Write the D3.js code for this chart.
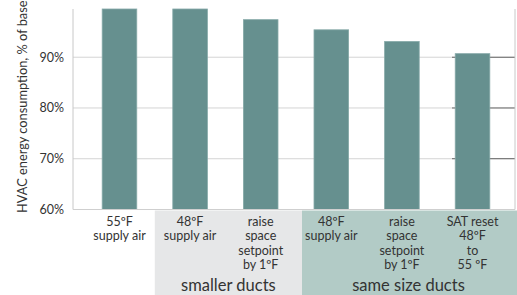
<!DOCTYPE html>
<html>
<head>
<meta charset="utf-8">
<script src="https://cdn.jsdelivr.net/npm/d3@7"></script>
<style>
  body { margin: 0; background: #fff; }
  text { font-family: Lato, "Open Sans", sans-serif; fill: #333; }
</style>
</head>
<body>
<div id="chart-area"></div>
<script>
// SVG Size
let width = 517,
	height = 295;

// data
let categories = ["55F", "48F small", "raise small", "48F same", "raise same", "SAT reset"];
let values = [99.5, 99.5, 97.4, 95.4, 93.1, 90.7];
let catLabels = [
	["55ºF", "supply air"],
	["48ºF", "supply air"],
	["raise", "space", "setpoint", "by 1ºF"],
	["48ºF", "supply air"],
	["raise", "space", "setpoint", "by 1ºF"],
	["SAT reset", "48ºF", "to", "55 ºF"]
];
let groupNames = ["smaller ducts", "same size ducts"];
let groupMembers = [["48F small", "raise small"], ["48F same", "raise same", "SAT reset"]];
let yTicks = [60, 70, 80, 90];
let yTitle = "HVAC energy consumption, % of base";

drawChart();

function drawChart() {
	let svg = d3.select("#chart-area").append("svg").attr("width", width).attr("height", height);

	let left = 73, right = 515, top = 9, bottom = 209.5;

	let x = d3.scaleBand().domain(categories).range([75, 517])
		.paddingInner(0.51).paddingOuter(0.385);

	let y = d3.scaleLinear().domain([60, 99.5]).range([bottom, top]);

	let groupColor = d3.scaleOrdinal().domain(groupNames).range(["#e6e7e8", "#b2cbc6"]);

	// group panels under the axis
	let half = x.step() * x.paddingInner() / 2;
	groupNames.forEach((g, i) => {
		let m = groupMembers[i];
		let x0 = x(m[0]) - half;
		let x1 = i === groupNames.length - 1 ? width : x(m[m.length - 1]) + x.bandwidth() + half + 6;
		if (i > 0) x0 += 6;
		svg.append("rect")
			.attr("x", x0).attr("y", bottom + 1)
			.attr("width", x1 - x0).attr("height", height - bottom - 1)
			.attr("fill", groupColor(g));
		svg.append("text")
			.attr("x", (x0 + Math.min(x1, right)) / 2)
			.attr("y", 291)
			.attr("text-anchor", "middle")
			.style("font-size", "16.5px")
			.text(g);
	});

	// gridlines
	let split = 452;
	let grid = yTicks.filter(d => d > 60);
	svg.selectAll(".grid")
		.data(grid).enter().append("line")
		.attr("x1", left).attr("x2", split)
		.attr("y1", d => y(d)).attr("y2", d => y(d))
		.attr("stroke", "#d4d4d4").attr("stroke-width", 1);
	svg.selectAll(".grid2")
		.data(grid).enter().append("line")
		.attr("x1", split).attr("x2", right)
		.attr("y1", d => y(d)).attr("y2", d => y(d))
		.attr("stroke", "#555").attr("stroke-width", 1);

	// bars
	svg.selectAll(".bar")
		.data(values).enter().append("rect")
		.attr("x", (d, i) => x(categories[i]))
		.attr("y", d => y(d))
		.attr("width", x.bandwidth())
		.attr("height", d => bottom - y(d))
		.attr("fill", "#66908f")
		.attr("stroke", "#86a9a8")
		.attr("stroke-width", 0.8);

	// frame lines
	svg.append("line").attr("x1", left).attr("x2", left).attr("y1", top).attr("y2", bottom)
		.attr("stroke", "#c8c8c8");
	svg.append("line").attr("x1", right).attr("x2", right).attr("y1", top).attr("y2", bottom)
		.attr("stroke", "#c8c8c8");
	svg.append("line").attr("x1", left).attr("x2", right).attr("y1", bottom).attr("y2", bottom)
		.attr("stroke", "#cfcfcf").attr("stroke-width", 1.2);

	// y axis labels
	let yAxis = d3.axisLeft(y).tickValues(yTicks).tickFormat(d => d + "%").tickSize(0).tickPadding(9);
	let ya = svg.append("g")
		.attr("class", "axis y-axis")
		.attr("transform", "translate(" + left + ",0)")
		.call(yAxis);
	ya.select(".domain").remove();
	ya.selectAll("text").style("font-size", "12.5px").attr("fill", "#333").style("font-family", "Lato, sans-serif");

	// category labels
	categories.forEach((c, i) => {
		let t = svg.append("text")
			.attr("x", x(c) + x.bandwidth() / 2)
			.attr("y", 226)
			.attr("text-anchor", "middle")
			.style("font-size", "12.5px");
		catLabels[i].forEach((line, j) => {
			t.append("tspan")
				.attr("x", x(c) + x.bandwidth() / 2)
				.attr("dy", j === 0 ? 0 : 14.3)
				.text(line);
		});
	});

	// y title
	svg.append("text")
		.attr("transform", "translate(27," + 213 + ") rotate(-90)")
		.attr("text-anchor", "start")
		.style("font-size", "12.8px")
		.text(yTitle);
}
</script>
</body>
</html>
